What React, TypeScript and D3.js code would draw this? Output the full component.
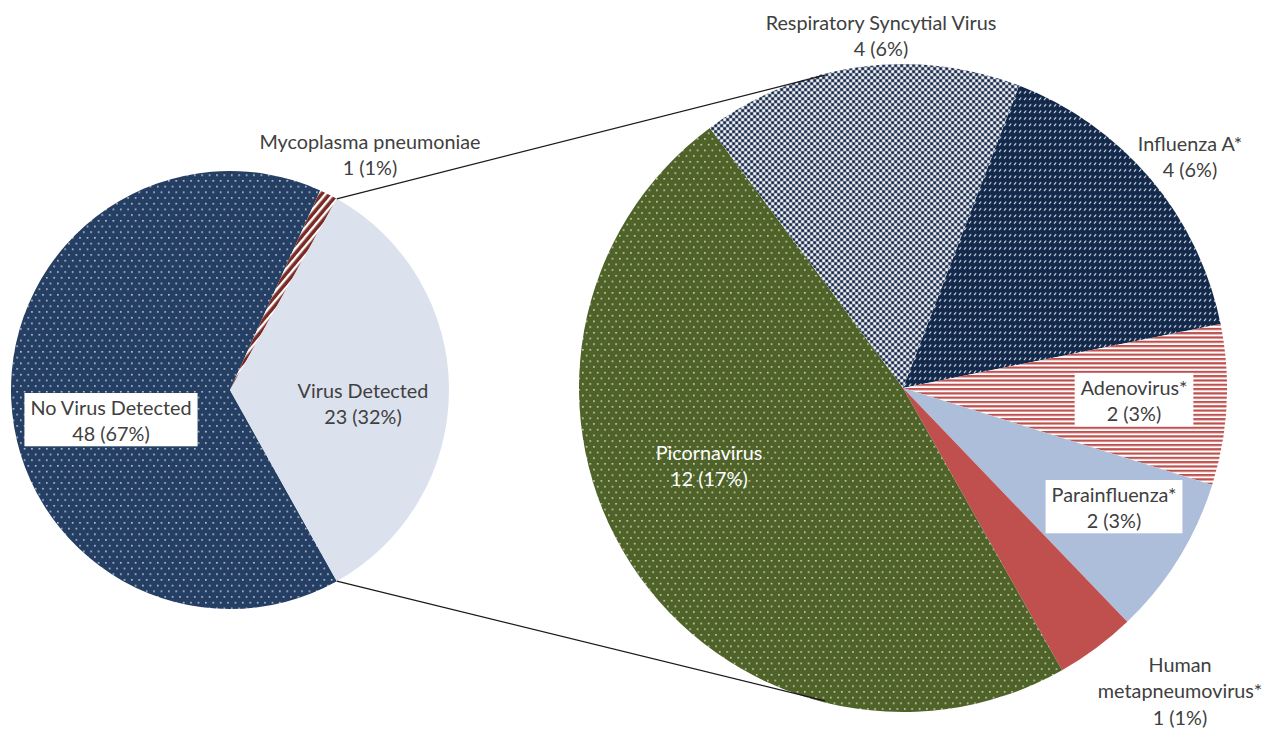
import React, { useEffect, useRef } from 'react';
import * as d3 from 'd3';

// first pie: all specimens
const primaryLabels = ['No Virus Detected', 'Mycoplasma pneumoniae', 'Virus Detected'];
const primaryValues = [48, 1, 23];
// second pie: viruses found (co-infections counted per virus), clockwise from Influenza A
const secondaryLabels = ['Influenza A*', 'Adenovirus*', 'Parainfluenza*', 'Human\nmetapneumovirus*', 'Picornavirus', 'Respiratory Syncytial Virus'];
const secondaryValues = [4, 2, 2, 1, 12, 4];

const W = 1266;
const H = 729;
const FONT = "Lato, 'Noto Sans', sans-serif";

// where every label sits (center x, center y of first line)
const labelPos: Record<string, { x: number; y: number; box?: boolean; color?: string }> = {
  'No Virus Detected': { x: 111, y: 408, box: true },
  'Mycoplasma pneumoniae': { x: 370, y: 142 },
  'Virus Detected': { x: 363, y: 391 },
  'Influenza A*': { x: 1190, y: 144 },
  'Adenovirus*': { x: 1134, y: 388, box: true },
  'Parainfluenza*': { x: 1114, y: 495, box: true },
  'Human\nmetapneumovirus*': { x: 1180, y: 665 },
  'Picornavirus': { x: 709, y: 453, color: '#ffffff' },
  'Respiratory Syncytial Virus': { x: 881, y: 23 },
};

export default function App() {
  const ref = useRef<SVGSVGElement>(null);

  useEffect(() => {
    document.body.style.margin = '0';
    const svg = d3.select(ref.current);
    svg.selectAll('*').remove();
    const defs = svg.append('defs');

    // fill patterns
    const pat = (id: string, w: number, h: number, bg: string, tr?: string) => {
      const p = defs.append('pattern')
        .attr('id', id)
        .attr('patternUnits', 'userSpaceOnUse')
        .attr('width', w)
        .attr('height', h);
      if (tr) p.attr('patternTransform', tr);
      p.append('rect').attr('width', w).attr('height', h).attr('fill', bg);
      return p;
    };
    const dots = (id: string, bg: string) => {
      const p = pat(id, 7.4, 11.4, bg);
      p.append('rect').attr('x', 1).attr('y', 1).attr('width', 1.5).attr('height', 1.5).attr('fill', '#ffffff').attr('opacity', 0.8);
      p.append('rect').attr('x', 4.7).attr('y', 6.7).attr('width', 1.5).attr('height', 1.5).attr('fill', '#ffffff').attr('opacity', 0.8);
    };
    dots('pNoVirus', '#243f63');
    dots('pPicorna', '#4f6228');

    const myco = pat('pMyco', 6, 6, '#7a2a24', 'rotate(40)');
    myco.append('rect').attr('x', 0).attr('width', 2.4).attr('height', 6).attr('fill', '#ffffff');

    const rsv = pat('pRsv', 6, 6, '#7d889b');
    rsv.append('rect').attr('x', 0.5).attr('y', 0.5).attr('width', 2.3).attr('height', 2.3).attr('fill', '#ffffff');
    rsv.append('rect').attr('x', 3.5).attr('y', 3.5).attr('width', 2.3).attr('height', 2.3).attr('fill', '#ffffff');
    rsv.append('rect').attr('x', 3.5).attr('y', 0.5).attr('width', 2.3).attr('height', 2.3).attr('fill', '#13264a');
    rsv.append('rect').attr('x', 0.5).attr('y', 3.5).attr('width', 2.3).attr('height', 2.3).attr('fill', '#13264a');

    const flu = pat('pFlu', 5, 6.5, '#13294b');
    flu.append('line').attr('x1', 1).attr('y1', 4.6).attr('x2', 3.2).attr('y2', 2.2)
      .attr('stroke', '#ffffff').attr('stroke-width', 1.1).attr('opacity', 0.9);

    const adeno = pat('pAdeno', 4, 4.3, '#ffffff');
    adeno.append('rect').attr('y', 0).attr('width', 4).attr('height', 2.2).attr('fill', '#c0504d');

    const primaryFill = ['url(#pNoVirus)', 'url(#pMyco)', '#dce1ee'];
    const secondaryFill = ['url(#pFlu)', 'url(#pAdeno)', '#adbedb', '#c0504d', 'url(#pPicorna)', 'url(#pRsv)'];

    const total = d3.sum(primaryValues);
    const otherSum = d3.sum(secondaryValues);
    // first pie: the "virus" slice equals the sum of the second pie and is centred at 3 o'clock
    const pieValues = [primaryValues[0], primaryValues[1], otherSum];
    const otherSpan = (otherSum / d3.sum(pieValues)) * 2 * Math.PI;
    const start1 = Math.PI / 2 + otherSpan / 2;

    const c1 = [230, 390];
    const r1 = 219;
    const c2 = [903, 388];
    const r2 = 324;
    const start2 = (21 * Math.PI) / 180;

    const pie1 = d3.pie<number>().sort(null).startAngle(start1).endAngle(start1 + 2 * Math.PI)(pieValues);
    const pie2 = d3.pie<number>().sort(null).startAngle(start2).endAngle(start2 + 2 * Math.PI)(secondaryValues);
    const arc1 = d3.arc<d3.PieArcDatum<number>>().innerRadius(0).outerRadius(r1);
    const arc2 = d3.arc<d3.PieArcDatum<number>>().innerRadius(0).outerRadius(r2);

    svg.append('g')
      .attr('transform', `translate(${c1[0]},${c1[1]})`)
      .selectAll('path')
      .data(pie1)
      .enter()
      .append('path')
      .attr('d', arc1)
      .attr('fill', (d, i) => primaryFill[i]);

    svg.append('g')
      .attr('transform', `translate(${c2[0]},${c2[1]})`)
      .selectAll('path')
      .data(pie2)
      .enter()
      .append('path')
      .attr('d', arc2)
      .attr('fill', (d, i) => secondaryFill[i]);

    // connector lines
    const polar = (c: number[], r: number, a: number) => [c[0] + r * Math.sin(a), c[1] - r * Math.cos(a)];
    const other = pie1[2];
    const connA = (14 * Math.PI) / 180;
    const lines = [
      [polar(c1, r1, other.startAngle), polar(c2, r2 - 1.5, -connA)],
      [polar(c1, r1, other.endAngle), polar(c2, r2 - 1.5, Math.PI + connA)],
    ];
    svg.append('g')
      .selectAll('line')
      .data(lines)
      .enter()
      .append('line')
      .attr('x1', d => d[0][0]).attr('y1', d => d[0][1])
      .attr('x2', d => d[1][0]).attr('y2', d => d[1][1])
      .attr('stroke', '#1a1a1a')
      .attr('stroke-width', 1.2);

    // labels
    const pct = (v: number) => `${v} (${Math.round((v / total) * 100)}%)`;
    const labels = [
      ...primaryLabels.map((l, i) => ({ name: l, value: primaryValues[i] })),
      ...secondaryLabels.map((l, i) => ({ name: l, value: secondaryValues[i] })),
    ];
    const lineH = 26.3;
    labels.forEach(d => {
      const pos = labelPos[d.name];
      const rows = [...d.name.split('\n'), pct(d.value)];
      const g = svg.append('g');
      const t = g.append('text')
        .attr('font-family', FONT)
        .attr('font-size', 19.8)
        .attr('fill', pos.color || '#404040')
        .attr('text-anchor', 'middle');
      rows.forEach((row, k) => {
        t.append('tspan').attr('x', pos.x).attr('y', pos.y + k * lineH + 7).text(row);
      });
      if (pos.box) {
        const bb = (t.node() as SVGTextElement).getBBox();
        g.insert('rect', 'text')
          .attr('x', bb.x - 6)
          .attr('y', bb.y - 2)
          .attr('width', bb.width + 12)
          .attr('height', bb.height + 3)
          .attr('fill', '#ffffff');
      }
    });
  }, []);

  return (
    <svg
      ref={ref}
      width={W}
      height={H}
      style={{ position: 'absolute', left: 0, top: 0, background: '#ffffff' }}
    />
  );
}
